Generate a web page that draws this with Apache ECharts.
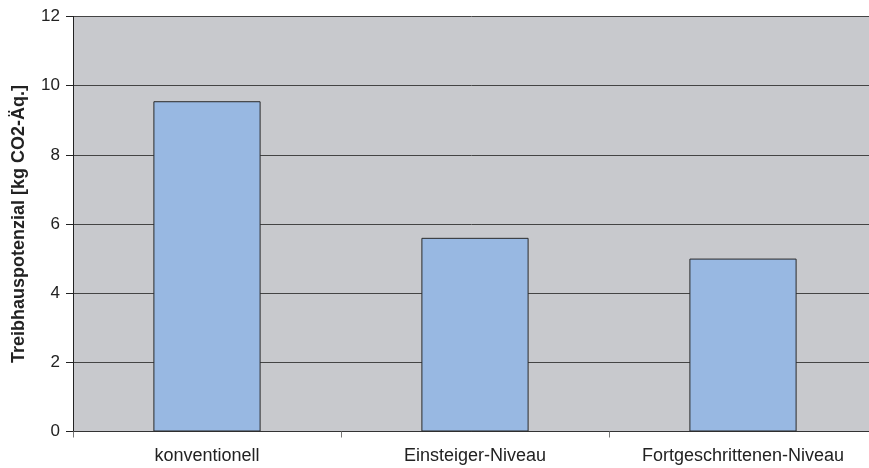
<!DOCTYPE html>
<html>
<head>
<meta charset="utf-8">
<script src="https://cdn.jsdelivr.net/npm/echarts@6/dist/echarts.min.js"></script>
<style>html,body{margin:0;padding:0;background:#fff}#c{width:869px;height:468px}</style>
</head>
<body>
<div id="c"></div>
<script>
var categories = ['konventionell', 'Einsteiger-Niveau', 'Fortgeschrittenen-Niveau'];
var values = [9.55, 5.6, 5.0];
var yTitle = 'Treibhauspotenzial [kg CO2-Äq.]';

var chart = echarts.init(document.getElementById('c'), null, {renderer: 'canvas'});
chart.setOption({
  animation: false,
  backgroundColor: '#ffffff',
  grid: {left: 73, right: -8, top: 16.5, bottom: 36.5, show: true, backgroundColor: '#C8C9CD', borderWidth: 0, outerBoundsMode: 'none', containLabel: false},
  xAxis: {
    type: 'category',
    data: categories,
    axisLine: {lineStyle: {color: '#333', width: 1}},
    axisTick: {show: true, length: 6, lineStyle: {color: '#777'}},
    axisLabel: {color: '#222', fontFamily: 'Liberation Sans', fontSize: 18, margin: 16}
  },
  yAxis: {
    type: 'value',
    min: 0, max: 12, interval: 2,
    name: yTitle,
    nameLocation: 'middle',
    nameGap: 45,
    nameTextStyle: {color: '#222', fontFamily: 'Liberation Sans', fontSize: 18, fontWeight: 'bold'},
    axisLine: {show: true, lineStyle: {color: '#222', width: 1}},
    axisTick: {show: true, length: 7, lineStyle: {color: '#222'}},
    axisLabel: {color: '#222', fontFamily: 'Liberation Sans', fontSize: 17, margin: 13},
    splitLine: {show: true, lineStyle: {color: '#444', width: 1}}
  },
  series: [{
    type: 'bar',
    data: values,
    barWidth: '40%',
    itemStyle: {color: '#98B8E2', borderColor: '#2a2a2a', borderWidth: 1}
  }]
});
</script>
</body>
</html>
